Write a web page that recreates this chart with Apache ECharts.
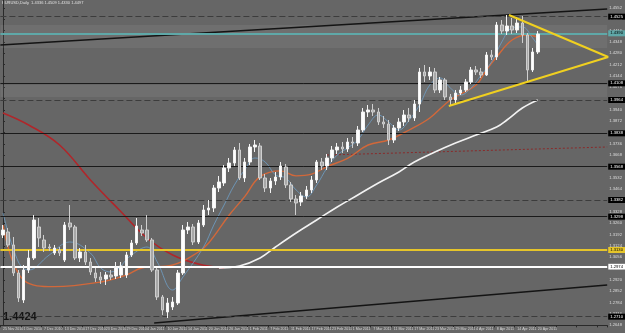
<!DOCTYPE html>
<html><head><meta charset="utf-8">
<script src="https://cdn.jsdelivr.net/npm/echarts@6/dist/echarts.min.js"></script>
<style>html,body{margin:0;padding:0;background:#666;}#c{width:625px;height:333px;}</style>
</head><body><div id="c"></div>
<script>
// ---- data ----
const dates = ["25 Nov 2010","26 Nov 2010","29 Nov 2010","30 Nov 2010",
"1 Dec 2010","2 Dec 2010","3 Dec 2010","6 Dec 2010","7 Dec 2010","8 Dec 2010","9 Dec 2010","10 Dec 2010","13 Dec 2010","14 Dec 2010","15 Dec 2010","16 Dec 2010","17 Dec 2010","20 Dec 2010","21 Dec 2010","22 Dec 2010","23 Dec 2010","24 Dec 2010","27 Dec 2010","28 Dec 2010","29 Dec 2010","30 Dec 2010","31 Dec 2010",
"3 Jan 2011","4 Jan 2011","5 Jan 2011","6 Jan 2011","7 Jan 2011","10 Jan 2011","11 Jan 2011","12 Jan 2011","13 Jan 2011","14 Jan 2011","17 Jan 2011","18 Jan 2011","19 Jan 2011","20 Jan 2011","21 Jan 2011","24 Jan 2011","25 Jan 2011","26 Jan 2011","27 Jan 2011","28 Jan 2011","31 Jan 2011",
"1 Feb 2011","2 Feb 2011","3 Feb 2011","4 Feb 2011","7 Feb 2011","8 Feb 2011","9 Feb 2011","10 Feb 2011","11 Feb 2011","14 Feb 2011","15 Feb 2011","16 Feb 2011","17 Feb 2011","18 Feb 2011","21 Feb 2011","22 Feb 2011","23 Feb 2011","24 Feb 2011","25 Feb 2011","28 Feb 2011",
"1 Mar 2011","2 Mar 2011","3 Mar 2011","4 Mar 2011","7 Mar 2011","8 Mar 2011","9 Mar 2011","10 Mar 2011","11 Mar 2011","14 Mar 2011","15 Mar 2011","16 Mar 2011","17 Mar 2011","18 Mar 2011","21 Mar 2011","22 Mar 2011","23 Mar 2011","24 Mar 2011","25 Mar 2011","28 Mar 2011","29 Mar 2011","30 Mar 2011","31 Mar 2011",
"1 Apr 2011","4 Apr 2011","5 Apr 2011","6 Apr 2011","7 Apr 2011","8 Apr 2011","11 Apr 2011","12 Apr 2011","13 Apr 2011","14 Apr 2011","15 Apr 2011","18 Apr 2011","19 Apr 2011","20 Apr 2011"];

const opens = [1.3190,1.3208,1.3130,1.2962,1.2800,1.2980,1.3052,1.3238,1.3160,1.3118,1.3082,1.3100,1.3040,1.3262,1.3238,1.3052,1.3088,1.3028,1.2962,1.2938,1.2926,1.2950,1.2944,1.2950,1.2950,1.3070,1.3142,
1.3220,1.3220,1.3160,1.2980,1.2818,1.2728,1.2758,1.2782,1.2962,1.3220,1.3238,1.3148,1.3250,1.3340,1.3352,1.3472,1.3502,1.3592,1.3622,1.3700,1.3532,
1.3628,1.3718,1.3724,1.3532,1.3472,1.3514,1.3538,1.3598,1.3490,1.3406,1.3388,1.3424,1.3460,1.3520,1.3628,1.3604,1.3652,1.3700,1.3718,1.3706,
1.3748,1.3742,1.3820,1.3928,1.3940,1.3928,1.3868,1.3856,1.3760,1.3832,1.3868,1.3910,1.3892,1.3976,1.4168,1.4144,1.4168,1.4060,1.4120,1.4018,1.4000,1.4042,1.4060,
1.4108,1.4180,1.4168,1.4150,1.4270,1.4258,1.4450,1.4414,1.4444,1.4420,1.4462,1.4390,1.4180,1.4288];
const closes = [1.3220,1.3130,1.2962,1.2812,1.2980,1.3052,1.3280,1.3172,1.3112,1.3112,1.3112,1.3082,1.3250,1.3238,1.3052,1.3088,1.3028,1.2968,1.2932,1.2920,1.2950,1.2938,1.2998,1.3004,1.3070,1.3142,1.3244,
1.3202,1.3160,1.2980,1.2818,1.2740,1.2782,1.2788,1.2962,1.3220,1.3238,1.3148,1.3262,1.3340,1.3352,1.3472,1.3508,1.3592,1.3622,1.3700,1.3532,1.3628,
1.3718,1.3730,1.3532,1.3472,1.3514,1.3538,1.3604,1.3490,1.3406,1.3382,1.3424,1.3460,1.3520,1.3628,1.3604,1.3652,1.3700,1.3718,1.3706,1.3748,
1.3742,1.3820,1.3928,1.3940,1.3928,1.3868,1.3856,1.3760,1.3832,1.3868,1.3910,1.3892,1.3976,1.4168,1.4144,1.4168,1.4060,1.4120,1.4018,1.4000,1.4042,1.4060,1.4108,
1.4180,1.4168,1.4150,1.4270,1.4258,1.4450,1.4414,1.4444,1.4420,1.4462,1.4390,1.4180,1.4288,1.4396];
const lows = [1.3172,1.3118,1.2944,1.2788,1.2782,1.2962,1.3040,1.3118,1.3088,1.3094,1.3070,1.3064,1.3028,1.3220,1.3040,1.3028,1.3010,1.2950,1.2908,1.2896,1.2890,1.2920,1.2926,1.2932,1.2932,1.3058,1.3130,
1.3184,1.3148,1.2968,1.2800,1.2710,1.2692,1.2740,1.2770,1.2950,1.3196,1.3130,1.3136,1.3238,1.3310,1.3328,1.3448,1.3484,1.3568,1.3604,1.3520,1.3508,
1.3610,1.3688,1.3520,1.3448,1.3442,1.3490,1.3520,1.3472,1.3388,1.3310,1.3364,1.3406,1.3442,1.3502,1.3580,1.3580,1.3628,1.3676,1.3682,1.3688,
1.3712,1.3724,1.3808,1.3898,1.3904,1.3850,1.3832,1.3730,1.3742,1.3814,1.3844,1.3868,1.3874,1.3928,1.4108,1.4120,1.4042,1.4042,1.4000,1.3964,1.3982,1.4030,1.4048,
1.4096,1.4150,1.4132,1.4144,1.4240,1.4240,1.4396,1.4390,1.4396,1.4402,1.4342,1.4108,1.4168,1.4276];
const highs = [1.3250,1.3232,1.3178,1.2980,1.3010,1.3100,1.3310,1.3292,1.3190,1.3136,1.3130,1.3118,1.3268,1.3370,1.3250,1.3112,1.3130,1.3052,1.2992,1.2968,1.2968,1.2980,1.3028,1.3028,1.3088,1.3160,1.3292,
1.3250,1.3310,1.3172,1.2992,1.2830,1.2812,1.2818,1.2980,1.3250,1.3268,1.3256,1.3280,1.3370,1.3400,1.3490,1.3544,1.3610,1.3652,1.3718,1.3742,1.3652,
1.3736,1.3760,1.3742,1.3556,1.3532,1.3568,1.3628,1.3616,1.3508,1.3430,1.3448,1.3484,1.3544,1.3640,1.3652,1.3676,1.3724,1.3742,1.3748,1.3772,
1.3778,1.3844,1.3952,1.3970,1.3976,1.3952,1.3904,1.3880,1.3850,1.3892,1.3940,1.3952,1.4000,1.4192,1.4210,1.4198,1.4192,1.4138,1.4132,1.4036,1.4060,1.4084,1.4126,
1.4198,1.4204,1.4192,1.4288,1.4300,1.4468,1.4480,1.4510,1.4492,1.4498,1.4504,1.4402,1.4312,1.4414];

// indicator lines: [bar index, price]
const maFast = [[0,1.3322],[3,1.3028],[5,1.2980],[9,1.3070],[13,1.3148],[17,1.3082],[19,1.2992],[21,1.2968],[25,1.3070],[28,1.3118],[30,1.3028],[33,1.2860],[35,1.2938],[39,1.3118],[41,1.3250],[43,1.3370],[45,1.3490],[47,1.3580],[49,1.3652],[51,1.3628],[53,1.3550],[55,1.3532],[57,1.3460],[59,1.3418],[61,1.3490],[63,1.3592],[65,1.3670],[67,1.3712],[69,1.3760],[71,1.3850],[73,1.3910],[75,1.3868],[77,1.3820],[79,1.3880],[81,1.3970],[83,1.4090],[85,1.4132],[87,1.4072],[89,1.4030],[91,1.4072],[93,1.4150],[95,1.4228],[97,1.4348],[99,1.4432],[101,1.4438],[103,1.4372],[104,1.4330]];
const maMid = [[0,1.3250],[4,1.2920],[10,1.2880],[19,1.2908],[24,1.2950],[27,1.2992],[33,1.3010],[38,1.3088],[40,1.3142],[44,1.3310],[47,1.3420],[50,1.3540],[54,1.3575],[57,1.3545],[60,1.3555],[63,1.3600],[67,1.3650],[71,1.3730],[75,1.3760],[79,1.3820],[83,1.3892],[87,1.4000],[92,1.4090],[94,1.4180],[96,1.4258],[99,1.4360],[102,1.4390],[104,1.4378]];
const maSlow = [[0,1.3922],[5,1.3850],[11,1.3730],[17,1.3520],[23,1.3328],[28,1.3172],[33,1.3070],[38,1.3016],[43,1.2992]];
const maLong = [[42,1.2992],[46,1.3004],[50,1.3052],[53,1.3118],[57,1.3202],[61,1.3280],[65,1.3358],[69,1.3430],[73,1.3502],[77,1.3568],[80,1.3628],[84,1.3688],[88,1.3742],[92,1.3790],[96,1.3838],[98,1.3880],[101,1.3952],[104,1.4000]];

// horizontal levels and trend lines
const hLevels = [1.4525,1.4390,1.4108,1.3964,1.3838,1.3568,1.3382,1.3298,1.3130,1.3028,1.2974,1.2710];
const hKinds  = ['dash','teal','black','dash','black','black','dash','black','yellow','black','white','dash'];
const bandLevels = [[1.4450,1.4312],[1.4090,1.4018]];
const trendTop = [[-0.5,1.4330],[117.5,1.4546]];
const trendBottom = [[29.4,1.2662],[117.5,1.2890]];
const wedgeUpper = [[98.4,1.4510],[117.7,1.4258]];
const wedgeLower = [[86.7,1.3964],[117.7,1.4258]];
const redDotted = [[63,1.3670],[117.5,1.3718]];
const priceText = "1.4424";
const titleText = "EURUSD,Daily  1.4336 1.4509 1.4330 1.4497";

// ---- chart ----
const TOTAL = 118;
const cats = dates.concat(new Array(TOTAL - dates.length).fill(''));
const candles = opens.map((o,i)=>[o, closes[i], lows[i], highs[i]]);
const kindStyle = {
  dash:{color:'#3c3c3c',type:[6,3],width:1},
  black:{color:'#1a1a1a',type:'solid',width:1},
  teal:{color:'#5fa8a8',type:'solid',width:2},
  yellow:{color:'#e6c52a',type:'solid',width:2},
  white:{color:'#ffffff',type:'solid',width:2}
};
const kindLabel = {
  dash:{bg:'#000',fg:'#fff'}, black:{bg:'#000',fg:'#fff'},
  teal:{bg:'#5fa8a8',fg:'#000'}, yellow:{bg:'#e6c52a',fg:'#000'}, white:{bg:'#fff',fg:'#000'}
};
function lineSeries(data, color, width, type, smooth, z){
  return {type:'line', xAxisIndex:1, yAxisIndex:0, data:data, showSymbol:false, symbol:'none',
    smooth:smooth, silent:true, clip:true, z:z||3,
    lineStyle:{color:color, width:width, type:type||'solid'}};
}
const chart = echarts.init(document.getElementById('c'), null, {renderer:'canvas'});
chart.setOption({
  animation:false,
  backgroundColor:'#666666',
  grid:{left:0, right:13, top:0, bottom:7.67, show:false},
  xAxis:[{
    type:'category', data:cats, boundaryGap:true,
    axisLine:{show:true, lineStyle:{color:'#2a2a2a'}},
    axisTick:{show:true, interval:3, length:2, lineStyle:{color:'#2a2a2a'}},
    axisLabel:{interval:3, fontSize:3.6, color:'#d8d8d8', align:'left', margin:2, fontFamily:'Liberation Sans'},
    splitLine:{show:false}
  },{
    type:'value', min:-0.5, max:TOTAL-0.5, show:false
  }],
  yAxis:[{
    type:'value', position:'right', min:1.2648, max:1.46, interval:0.0068,
    axisLine:{show:true, lineStyle:{color:'#2a2a2a'}},
    axisTick:{show:true, length:2, lineStyle:{color:'#2a2a2a'}},
    axisLabel:{fontSize:4.2, color:'#dcdcdc', margin:2, showMaxLabel:false, formatter:v=>v.toFixed(4), fontFamily:'Liberation Sans'},
    splitLine:{show:false}
  }],
  graphic:[
    {type:'text', left:2, top:1, style:{text:titleText, fontSize:4, fill:'#e0e0e0', fontFamily:'Liberation Sans'}},
    {type:'text', left:3, top:311, style:{text:priceText, fontSize:11, fontWeight:'bold', fill:'#141414', fontFamily:'Liberation Sans'}}
  ],
  series:[
    {
      type:'candlestick', data:candles, barWidth:3, z:5,
      itemStyle:{color:'#ffffff', color0:'#a8a8a8', borderColor:'#f4f4f4', borderColor0:'#cfcfcf', borderWidth:1},
      markArea:{silent:true, itemStyle:{color:'rgba(255,255,255,0.06)'},
        data: bandLevels.map(b=>[{yAxis:b[0]},{yAxis:b[1]}])},
      markLine:{
        silent:true, symbol:['none','none'], animation:false,
        data: hLevels.map((v,i)=>({
          yAxis:v,
          lineStyle:kindStyle[hKinds[i]],
          label:{show:true, position:'end', distance:1, formatter:v.toFixed(4), fontSize:4.2,
                 color:kindLabel[hKinds[i]].fg, backgroundColor:kindLabel[hKinds[i]].bg, padding:[1,2]}
        }))
      }
    },
    lineSeries(maSlow,'#b0262a',1.6,'solid',0.4,3),
    lineSeries(maLong,'#f2f2f2',1.6,'solid',0.4,3),
    lineSeries(maMid,'#d2683a',1.4,'solid',0.4,4),
    lineSeries(maFast,'#6f9fc8',0.8,'solid',0.4,4),
    lineSeries(redDotted,'#8a2a2a',1,[2,2],false,2),
    lineSeries(trendTop,'#141414',1.3,'solid',false,2),
    lineSeries(trendBottom,'#141414',1.3,'solid',false,2),
    lineSeries(wedgeUpper,'#f0d020',2,'solid',false,6),
    lineSeries(wedgeLower,'#f0d020',2,'solid',false,6)
  ]
});
</script></body></html>
